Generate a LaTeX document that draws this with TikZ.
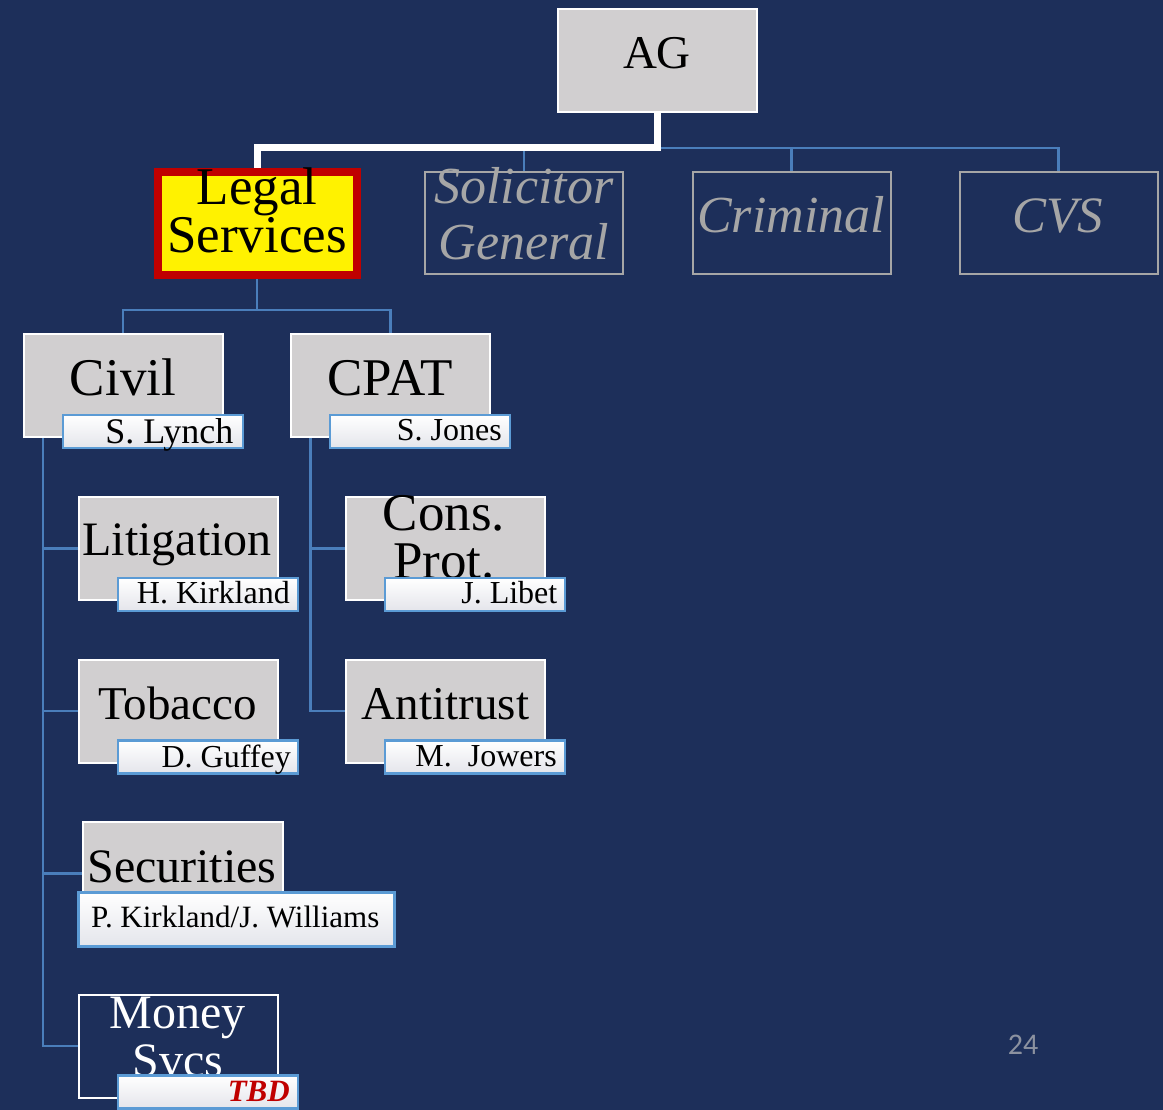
\documentclass[tikz,border=0pt]{standalone}
\usepackage{fontspec}
\setmainfont{Liberation Serif}
\newfontfamily\pgfont{Carlito}
\definecolor{bg}{RGB}{29,47,90}
\definecolor{boxgray}{RGB}{209,207,208}
\definecolor{connblue}{RGB}{74,126,187}
\definecolor{labblue}{RGB}{91,155,213}
\definecolor{dimgray}{RGB}{166,166,166}
\definecolor{darkred}{RGB}{192,0,0}
\definecolor{labbot}{RGB}{228,229,235}
\definecolor{pggray}{RGB}{140,146,160}
\begin{document}
\begin{tikzpicture}[x=1pt,y=-1pt,
  unit/.style={draw=white, line width=2pt, fill=boxgray, minimum width=199pt, minimum height=103pt, inner sep=0pt},
  ghost/.style={draw=dimgray, line width=2pt, minimum width=198pt, minimum height=102pt, inner sep=0pt},
  namelab/.style={draw=labblue, line width=2.5pt, top color=white, bottom color=labbot, minimum width=180pt, minimum height=33pt, inner sep=0pt},
  conn/.style={draw=connblue, line width=2.2pt},
  mainlink/.style={draw=white, line width=7pt},
  txt/.style={inner sep=0pt, anchor=base},
  rtxt/.style={inner sep=0pt, anchor=base east},
  sz/.style={font=\fontsize{#1pt}{#1pt}\selectfont},
  isz/.style={font=\fontsize{#1pt}{#1pt}\selectfont\itshape, text=dimgray}
]
\fill[bg] (0,0) rectangle (1163,1110);
\useasboundingbox (0,0) rectangle (1163,1110);

% top level
\node[unit] (ag) at (657,60.5) {};
\node[draw=darkred, line width=8pt, fill=yellow, minimum width=199pt, minimum height=103pt, inner sep=0pt] (legal) at (257,223.5) {};
\node[ghost] (sg) at (524,223) {};
\node[ghost] (crim) at (791.5,223) {};
\node[ghost] (cvs) at (1058.5,223) {};

\coordinate (hub) at (657,148);
\draw[conn] (hub) -| (sg.north);
\draw[conn] (hub) -| (crim.north);
\draw[conn] (hub) -| (cvs.north);
\draw[mainlink] (ag.south) -- (hub) -| (legal.north);

\node[txt, sz=47] (agt) at (657,69) {AG};
\node[txt, sz=53] (legalt1) at (257,205) {Legal};
\node[txt, sz=53] (legalt2) at (257,253) {Services};
\node[txt, isz=52] (sgt1) at (524,204) {Solicitor};
\node[txt, isz=52] (sgt2) at (524,260) {General};
\node[txt, isz=52] (crimt) at (791,233) {Criminal};
\node[txt, isz=51] (cvst) at (1058,233) {CVS};

% second level
\node[unit] (civil) at (123,385.5) {};
\node[unit] (cpat) at (390.5,385.5) {};
\coordinate (lhub) at (257,310);
\draw[conn] (legal.south) -- (lhub);
\draw[conn] (lhub) -| (civil.north);
\draw[conn] (lhub) -| (cpat.north);
\node[txt, sz=53] (civilt) at (123,395) {Civil};
\node[txt, sz=53] (cpatt) at (390,395) {CPAT};
\node[namelab] (lynch) at (153,431.5) {};
\node[rtxt, sz=36] (lyncht) at (233.5,443) {S. Lynch};
\node[namelab] (jones) at (420,431.5) {};
\node[rtxt, sz=32] (jonest) at (502,440) {S. Jones};

% civil branch
\node[unit] (lit) at (178,548.5) {};
\node[unit] (tob) at (178,711) {};
\node[unit, minimum width=200pt] (sec) at (182.5,873.5) {};
\node[draw=white, line width=2pt, fill=bg, minimum width=199pt, minimum height=103pt, inner sep=0pt] (money) at (178,1046) {};
\draw[conn] ([xshift=20.5pt]civil.south west) |- (lit.west);
\draw[conn] ([xshift=20.5pt]civil.south west) |- (tob.west);
\draw[conn] ([xshift=20.5pt]civil.south west) |- (sec.west);
\draw[conn] ([xshift=20.5pt]civil.south west) |- (money.west);

% cpat branch
\node[unit] (cons) at (445,548.5) {};
\node[unit] (anti) at (445,711) {};
\draw[conn] ([xshift=20.5pt]cpat.south west) |- (cons.west);
\draw[conn] ([xshift=20.5pt]cpat.south west) |- (anti.west);

% texts
\node[txt, sz=48] (litt) at (177,555) {Litigation};
\node[txt, sz=47] (tobt) at (177.5,719) {Tobacco};
\node[txt, sz=48] (sect) at (182,882) {Securities};
\node[txt, sz=48, text=white] (money1) at (177.5,1028) {Money};
\node[txt, sz=48, text=white] (money2) at (178,1076) {Svcs};
\node[txt, sz=53] (cons1) at (444,530) {Cons.};
\node[txt, sz=53] (cons2) at (444,578) {Prot.};
\node[txt, sz=47] (antit) at (445.5,719) {Antitrust};

% name labels
\node[namelab] (kirk) at (208,594.5) {};
\node[rtxt, sz=32] (kirkt) at (290,603) {H. Kirkland};
\node[namelab] (guff) at (208,757) {};
\node[rtxt, sz=32] (gufft) at (291,767) {D. Guffey};
\node[namelab, minimum width=316pt, minimum height=54pt] (pk) at (236.5,919.5) {};
\node[txt, anchor=base west, sz=31] (pkt) at (91,927) {P. Kirkland/J. Williams};
\node[namelab] (tbd) at (208,1092) {};
\node[rtxt, sz=31, text=darkred] (tbdt) at (290,1101) {\bfseries\itshape TBD};
\node[namelab] (libet) at (475,594.5) {};
\node[rtxt, sz=32] (libett) at (557.5,603) {J. Libet};
\node[namelab] (jow) at (475,757) {};
\node[rtxt, sz=32] (jowt) at (557,766) {M.\ \ Jowers};

% page number
\node[txt, font=\pgfont\fontsize{30pt}{30pt}\selectfont, text=pggray] (pnum) at (1023,1054) {24};
\end{tikzpicture}
\end{document}
